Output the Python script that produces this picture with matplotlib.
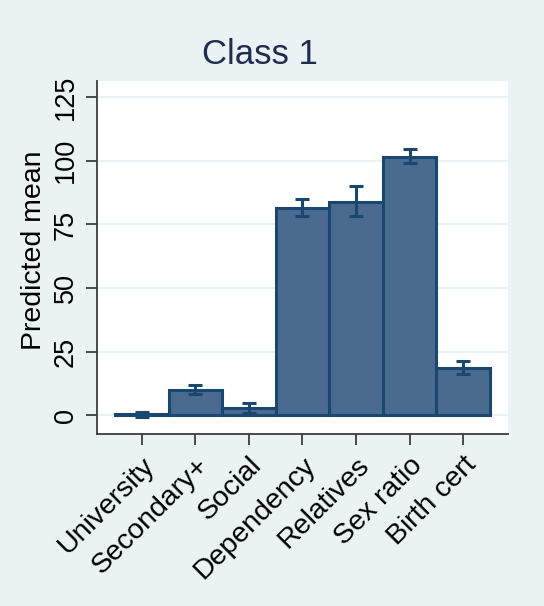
import matplotlib
matplotlib.use('Agg')
import matplotlib.pyplot as plt
import numpy as np

plt.rcParams['font.family'] = ['Liberation Sans', 'DejaVu Sans']

categories = ['University', 'Secondary+', 'Social', 'Dependency',
              'Relatives', 'Sex ratio', 'Birth cert']
means = [0.4, 10.0, 2.8, 81.3, 84.0, 101.6, 18.6]
ci_low = [-0.6, 8.2, 0.9, 78.4, 78.4, 99.1, 16.4]
ci_high = [1.3, 11.9, 4.7, 85.0, 90.2, 104.6, 21.3]
yticks = [0, 25, 50, 75, 100, 125]

bg = '#eaf2f3'
bar_fill = '#4a6b8f'
bar_edge = '#1a476f'

fig = plt.figure(figsize=(5.44, 6.06), dpi=100, facecolor=bg)
ax = fig.add_axes([0.178, 0.284, 0.756, 0.582])
ax.set_facecolor('white')

x = np.arange(len(categories))
means = np.array(means)
yerr = np.vstack([means - np.array(ci_low), np.array(ci_high) - means])

ax.bar(x, means, width=1.0, color=bar_fill, edgecolor=bar_edge, linewidth=2.2, zorder=2)
ax.errorbar(x, means, yerr=yerr, fmt='none', ecolor=bar_edge, elinewidth=2.2,
            capsize=5, capthick=2.2, zorder=3)

ax.set_xlim(-0.84, 6.84)
ax.set_ylim(-7.3, 131.3)
ax.set_yticks(yticks)
ax.set_yticklabels([str(t) for t in yticks], rotation=90, va='center', fontsize=19.5)
ax.set_xticks(x)
ax.set_xticklabels(categories, rotation=45, ha='right', va='top',
                   rotation_mode='anchor', fontsize=20.5)
ax.grid(axis='y', color=bg, linewidth=1.5, zorder=0)
ax.set_axisbelow(True)

for side in ['top', 'right']:
    ax.spines[side].set_visible(False)
for side in ['left', 'bottom']:
    ax.spines[side].set_color('#3c3c3c')
    ax.spines[side].set_linewidth(1.3)
ax.tick_params(axis='both', direction='out', length=8, width=1.3, color='#3c3c3c')
ax.tick_params(axis='y', pad=5)
ax.tick_params(axis='x', pad=5)

ax.set_ylabel('Predicted mean', fontsize=20.5)
ax.yaxis.set_label_coords(-0.122, 0.52)
fig.text(260 / 544, 1 - 55 / 606, 'Class 1', ha='center', va='center',
         fontsize=25, color='#1e2d4f')

plt.savefig('out.png', dpi=100, facecolor=bg)
plt.close()
